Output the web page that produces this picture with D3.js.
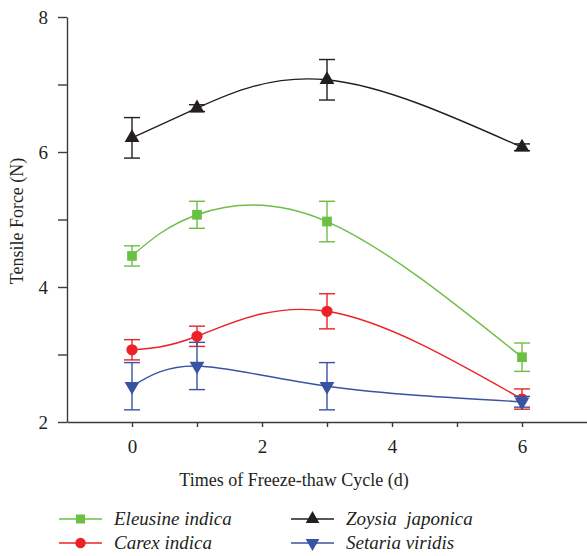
<!DOCTYPE html>
<html>
  <head>
    <style>
      body { margin: 0; background: #fff; }
    </style>
  </head>
  <body>
    <div id="my_dataviz"></div>
  </body>
</html>

<script src="https://d3js.org/d3.v7.min.js"></script>

<script>

    // data
    var days = [0, 1, 3, 6];
    var seriesNames = ["Eleusine indica", "Carex indica", "Zoysia  japonica", "Setaria viridis"];
    var eleusine = [4.46, 5.07, 4.97, 2.96];
    var eleusineErr = [0.15, 0.2, 0.3, 0.21];
    var carex = [3.07, 3.27, 3.64, 2.34];
    var carexErr = [0.15, 0.15, 0.26, 0.15];
    var zoysia = [6.21, 6.65, 7.07, 6.07];
    var zoysiaErr = [0.3, 0.05, 0.3, 0.05];
    var setaria = [2.53, 2.83, 2.53, 2.30];
    var setariaErr = [0.35, 0.35, 0.35, 0.08];
    var xTicks = [0, 1, 2, 3, 4, 5, 6];
    var yTicks = [2, 3, 4, 5, 6, 7, 8];

    var width = 587, height = 556;
    var serif = "'Liberation Serif', 'Times New Roman', 'DejaVu Serif', serif";

    var svg = d3.select("#my_dataviz")
      .append("svg")
        .attr("width", width)
        .attr("height", height);

    var x = d3.scaleLinear()
      .domain([-1, 7])
      .range([67, 587]);

    var y = d3.scaleLinear()
      .domain([2, 8])
      .range([422, 17]);

    // X axis
    svg.append("g")
      .attr("transform", "translate(0," + y(2) + ")")
      .call(d3.axisBottom(x)
        .tickValues(xTicks)
        .tickSize(5)
        .tickSizeOuter(0)
        .tickPadding(13)
        .tickFormat(function(d) { return d % 2 === 0 ? d : ""; }));

    // Y axis
    svg.append("g")
      .attr("transform", "translate(" + x(-1) + ",0)")
      .call(d3.axisLeft(y)
        .tickValues(yTicks)
        .tickSize(9)
        .tickSizeOuter(0)
        .tickPadding(10)
        .tickFormat(function(d) { return d % 2 === 0 ? d : ""; }));

    svg.selectAll(".domain, .tick line")
      .attr("stroke", "#3b3b3b")
      .attr("stroke-width", 1.4);
    svg.selectAll(".tick text")
      .style("font-family", serif)
      .style("font-size", "19px")
      .attr("fill", "#231f20");

    // axis titles
    svg.append("text")
      .attr("x", 294)
      .attr("y", 486)
      .attr("text-anchor", "middle")
      .style("font-family", serif)
      .style("font-size", "18px")
      .attr("fill", "#231f20")
      .text("Times of Freeze-thaw Cycle (d)");

    svg.append("text")
      .attr("transform", "translate(23,221)rotate(-90)")
      .attr("text-anchor", "middle")
      .style("font-family", serif)
      .style("font-size", "18px")
      .attr("fill", "#231f20")
      .text("Tensile Force (N)");

    var series = [
      {name: seriesNames[0], values: eleusine, err: eleusineErr, color: "#6cbf45", symbol: d3.symbolSquare, size: 95, rot: 0},
      {name: seriesNames[1], values: carex, err: carexErr, color: "#ec2227", symbol: d3.symbolCircle, size: 100, rot: 0},
      {name: seriesNames[2], values: zoysia, err: zoysiaErr, color: "#231f20", symbol: d3.symbolTriangle, size: 95, rot: 0},
      {name: seriesNames[3], values: setaria, err: setariaErr, color: "#3853a4", symbol: d3.symbolTriangle, size: 95, rot: 180}
    ];

    var line = d3.line()
      .x(function(d) { return x(d[0]); })
      .y(function(d) { return y(d[1]); })
      .curve(d3.curveNatural);

    series.forEach(function(s) {
      var pts = days.map(function(d, i) { return [d, s.values[i], s.err[i]]; });

      svg.append("path")
        .datum(pts)
        .attr("fill", "none")
        .attr("stroke", s.color)
        .attr("stroke-width", 1.4)
        .attr("d", line);

      var eb = svg.append("g").attr("stroke", s.color).attr("stroke-width", 1.4);
      pts.forEach(function(p) {
        eb.append("line")
          .attr("x1", x(p[0])).attr("x2", x(p[0]))
          .attr("y1", y(p[1] + p[2])).attr("y2", y(p[1] - p[2]));
        eb.append("line")
          .attr("x1", x(p[0]) - 8).attr("x2", x(p[0]) + 8)
          .attr("y1", y(p[1] + p[2])).attr("y2", y(p[1] + p[2]));
        eb.append("line")
          .attr("x1", x(p[0]) - 8).attr("x2", x(p[0]) + 8)
          .attr("y1", y(p[1] - p[2])).attr("y2", y(p[1] - p[2]));
      });

      svg.selectAll(null)
        .data(pts)
        .enter()
        .append("path")
          .attr("d", d3.symbol().type(s.symbol).size(s.size))
          .attr("transform", function(d) {
            return "translate(" + x(d[0]) + "," + y(d[1]) + ")rotate(" + s.rot + ")";
          })
          .attr("fill", s.color);
    });

    // legend
    var legendPos = [[59, 519], [59, 543], [291, 519], [291, 543]];
    series.forEach(function(s, i) {
      var lg = svg.append("g")
        .attr("transform", "translate(" + legendPos[i][0] + "," + legendPos[i][1] + ")");
      lg.append("line")
        .attr("x1", 0).attr("x2", 43)
        .attr("stroke", s.color)
        .attr("stroke-width", 1.4);
      lg.append("path")
        .attr("d", d3.symbol().type(s.symbol).size(s.size * 0.85))
        .attr("transform", "translate(21.5,0)rotate(" + s.rot + ")")
        .attr("fill", s.color);
      lg.append("text")
        .attr("x", 55)
        .attr("y", 6)
        .style("font-family", serif)
        .style("font-size", "19px")
        .style("font-style", "italic")
        .style("white-space", "pre")
        .attr("fill", "#231f20")
        .text(s.name);
    });

</script>
